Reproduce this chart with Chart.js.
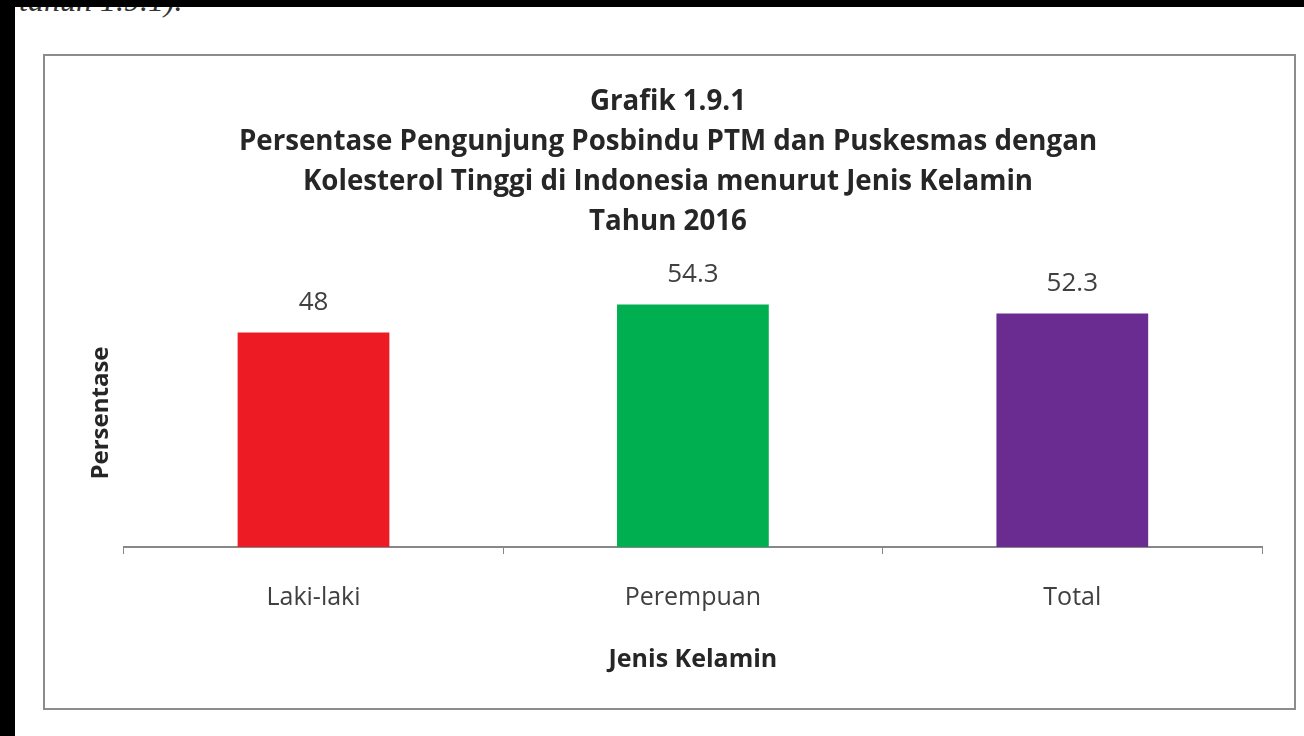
<!DOCTYPE html>
<html>
<head>
<meta charset="utf-8">
<script src="https://cdn.jsdelivr.net/npm/chart.js@4.4.1/dist/chart.umd.min.js"></script>
<style>
  html, body { margin: 0; padding: 0; background: #000; }
  body { width: 1304px; height: 736px; position: relative; overflow: hidden; }
  #page { position: absolute; left: 15px; top: 7px; width: 1289px; height: 729px; background: #fff; overflow: hidden; }
  #cut { position: absolute; left: 4px; top: -25px; font: italic 32px "Liberation Serif", serif; color: #333; white-space: nowrap; }
  #frame { position: absolute; left: 43px; top: 54px; width: 1249px; height: 652px; border: 2px solid #8c8c8c; box-sizing: content-box; }
  #c { position: absolute; left: 0; top: 0; }
</style>
</head>
<body>
<div id="page"><div id="cut">tahun 1.9.1).</div></div>
<div id="frame"></div>
<canvas id="c" width="1304" height="736"></canvas>
<script>
// data
const categories = ["Laki-laki", "Perempuan", "Total"];
const values = [48, 54.3, 52.3];
const barColors = ["#ED1C24", "#00B050", "#6B2C91"];
const titleLines = [
  "Grafik 1.9.1",
  "Persentase Pengunjung Posbindu PTM dan Puskesmas dengan",
  "Kolesterol Tinggi di Indonesia menurut Jenis Kelamin",
  "Tahun 2016"
];
const xTitle = "Jenis Kelamin";
const yTitle = "Persentase";

const FONT = "'Open Sans', 'Noto Sans', sans-serif";

// value labels above each bar
const valueLabels = {
  id: "valueLabels",
  afterDatasetsDraw(chart) {
    const ctx = chart.ctx;
    const meta = chart.getDatasetMeta(0);
    ctx.save();
    ctx.font = "26px " + FONT;
    ctx.fillStyle = "#404040";
    ctx.textAlign = "center";
    ctx.textBaseline = "middle";
    meta.data.forEach((bar, i) => {
      ctx.fillText(String(values[i]), bar.x, bar.y - 30);
    });
    ctx.restore();
  }
};

new Chart(document.getElementById("c").getContext("2d"), {
  type: "bar",
  data: {
    labels: categories,
    datasets: [{
      data: values,
      backgroundColor: barColors,
      borderWidth: 0,
      barPercentage: 0.4,
      categoryPercentage: 1.0
    }]
  },
  options: {
    responsive: false,
    animation: false,
    layout: { padding: { top: 82, left: 74, right: 42, bottom: 61 } },
    plugins: {
      legend: { display: false },
      tooltip: { enabled: false },
      title: {
        display: true,
        text: titleLines,
        color: "#262626",
        font: { family: FONT, size: 27.7, weight: "bold", lineHeight: "40px" },
        padding: { top: 0, bottom: 37 }
      }
    },
    scales: {
      x: {
        grid: { display: true, drawOnChartArea: false, drawTicks: true, tickLength: 7, color: "#888", offset: true },
        border: { display: true, color: "#888", width: 2 },
        ticks: { color: "#404040", font: { family: FONT, size: 25 }, padding: 29 },
        title: {
          display: true, text: xTitle, color: "#262626",
          font: { family: FONT, size: 25, weight: "bold" },
          padding: { top: 3, bottom: 0 }
        }
      },
      y: {
        min: 0, max: 60,
        grid: { display: false },
        border: { display: false },
        ticks: { display: false },
        title: {
          display: true, text: yTitle, color: "#262626",
          font: { family: FONT, size: 24, weight: "bold" },
          padding: { top: 13, bottom: 0 }
        }
      }
    }
  },
  plugins: [valueLabels]
});
</script>
</body>
</html>
